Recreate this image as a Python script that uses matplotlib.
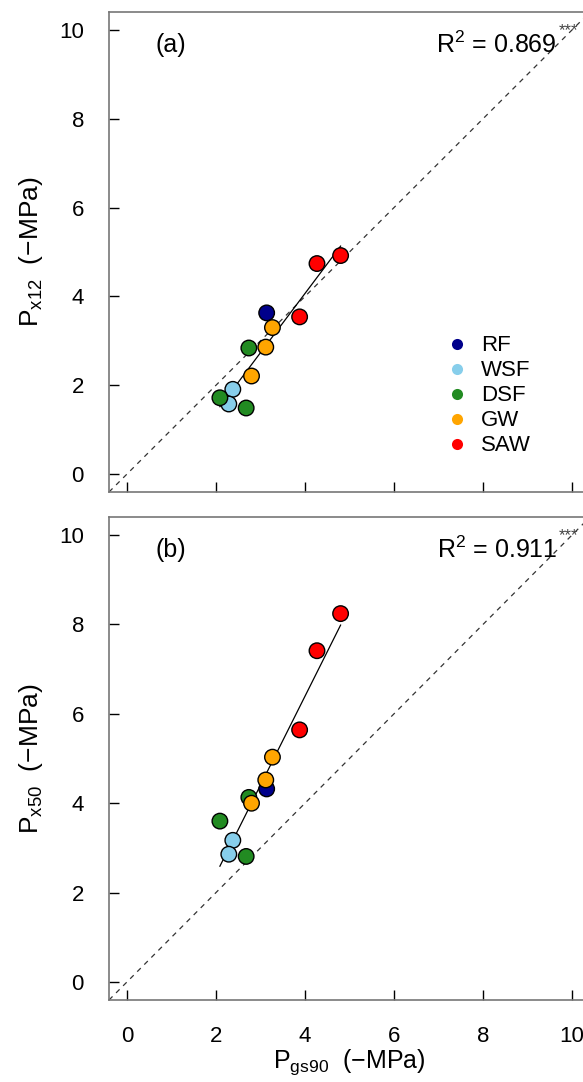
import numpy as np
import matplotlib
matplotlib.use("Agg")
import matplotlib.pyplot as plt
from matplotlib.lines import Line2D

plt.rcParams['font.family'] = ['Liberation Sans', 'DejaVu Sans']
plt.rcParams['mathtext.fontset'] = 'custom'
plt.rcParams['mathtext.rm'] = 'Liberation Sans'
plt.rcParams['mathtext.it'] = 'Liberation Sans:italic'

groups = ["RF", "WSF", "DSF", "GW", "SAW"]
colors = {"RF": "#00008B", "WSF": "#87CEEB", "DSF": "#228B22",
          "GW": "#FFA500", "SAW": "#FF0000"}

site = ["RF", "WSF", "WSF", "DSF", "DSF", "DSF", "GW", "GW", "GW", "SAW", "SAW", "SAW"]
pgs90 = [3.14, 2.38, 2.29, 2.74, 2.09, 2.68, 3.27, 3.12, 2.80, 4.80, 4.27, 3.88]
px12 = [3.63, 1.91, 1.58, 2.84, 1.72, 1.49, 3.30, 2.86, 2.21, 4.92, 4.74, 3.54]
px50 = [4.32, 3.17, 2.86, 4.13, 3.60, 2.81, 5.03, 4.52, 4.00, 8.24, 7.41, 5.64]

r2_a = "0.869"
r2_b = "0.911"

W, H = 583, 1082
fig = plt.figure(figsize=(W / 100, H / 100), dpi=100)


def px_axes(x0, x1, ytop, ybot):
    return fig.add_axes([x0 / W, 1 - ybot / H, (x1 - x0) / W, (ybot - ytop) / H])


ax1 = px_axes(109, 590, 12, 492)
ax2 = px_axes(109, 590, 517, 1000)

x = np.array(pgs90)


def panel(ax, y, tag, r2, ylab, show_x):
    y = np.array(y)
    ax.set_xlim(-0.4, 10.4)
    ax.set_ylim(-0.4, 10.4)
    # 1:1 line
    ax.plot([-0.4, 10.4], [-0.4, 10.4], ls=(0, (4, 4)), color='#333333', lw=0.9, zorder=1)
    # least-squares fit over the observed range
    b, a = np.polyfit(x, y, 1)
    xs = np.array([x.min(), x.max()])
    ax.plot(xs, a + b * xs, color='black', lw=0.9, zorder=2)
    cols = [colors[s] for s in site]
    ax.scatter(x, y, s=125, c=cols, edgecolors='black', linewidths=1.0, zorder=3)
    ax.set_xticks(range(0, 11, 2))
    ax.set_yticks(range(0, 11, 2))
    ax.tick_params(direction='in', length=7, width=1, color='black', labelsize=16)
    ax.tick_params(axis='y', pad=18)
    ax.tick_params(axis='x', pad=19)
    if not show_x:
        ax.tick_params(axis='x', labelbottom=False)
    for sp in ax.spines.values():
        sp.set_color('#777777')
        sp.set_linewidth(1.2)
    ax.text(0.99, 9.66, tag, fontsize=18, ha='center', va='center')
    ax.text(9.66, 9.66, r'R$^2$ = ' + r2, fontsize=18, ha='right', va='center')
    ax.text(9.7, 9.98, '***', fontsize=12, ha='left', va='center', color='#444444')
    ax.set_ylabel(ylab, fontsize=19, labelpad=10)


panel(ax1, px12, '(a)', r2_a, r'P$_{\mathrm{x12}}$  (−MPa)', False)
panel(ax2, px50, '(b)', r2_b, r'P$_{\mathrm{x50}}$  (−MPa)', True)
ax2.set_xlabel(r'P$_{\mathrm{gs90}}$  (−MPa)', fontsize=18, labelpad=0)

handles = [Line2D([], [], ls='none', marker='o', markersize=8,
                  markerfacecolor=colors[g], markeredgecolor='none') for g in groups]
ax1.legend(handles, groups, loc='upper left', bbox_to_anchor=(0.677, 0.345),
           frameon=False, fontsize=16, handletextpad=0.5, labelspacing=0.18,
           borderaxespad=0, handlelength=1.2)

fig.savefig('out.png', dpi=100)
